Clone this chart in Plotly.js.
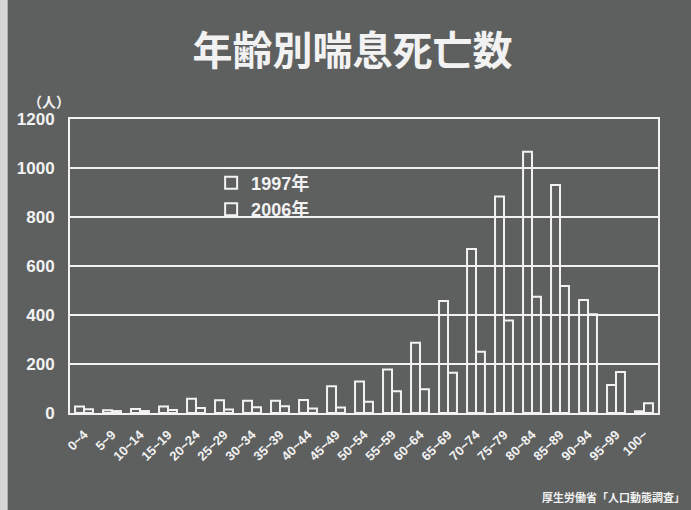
<!DOCTYPE html>
<html>
<head>
<meta charset="utf-8">
<script src="https://cdn.plot.ly/plotly-3.0.1.min.js"></script>
<style>html,body{margin:0;padding:0;background:#5e6060;}#chart{width:691px;height:510px;}</style>
</head>
<body>
<div id="chart"></div>
<script>
const categories = ["0~4","5~9","10~14","15~19","20~24","25~29","30~34","35~39","40~44","45~49","50~54","55~59","60~64","65~69","70~74","75~79","80~84","85~89","90~94","95~99","100~"];
const values1997 = [27, 11, 16, 27, 58, 52, 50, 50, 53, 109, 129, 178, 287, 457, 669, 884, 1066, 931, 461, 114, 7];
const values2006 = [15, 8, 8, 12, 20, 14, 23, 28, 18, 22, 46, 89, 97, 164, 250, 378, 475, 518, 403, 167, 40];
const seriesNames = ["1997年", "2006年"];
const yTicks = [0, 200, 400, 600, 800, 1000, 1200];

const FONT = "Liberation Sans, Arial, 'Noto Sans CJK JP', sans-serif";
const JFONT = "'Noto Sans CJK JP', Liberation Sans, sans-serif";
const WHITE = "#f2f2f2";
const BG = "#5e6060";

const barStyle = {color: "rgba(0,0,0,0)", line: {color: WHITE, width: 2}};
const data = [
  {type: "bar", name: seriesNames[0], x: categories, y: values1997, marker: barStyle, hoverinfo: "x+y"},
  {type: "bar", name: seriesNames[1], x: categories, y: values2006, marker: barStyle, hoverinfo: "x+y"}
];

const layout = {
  width: 691, height: 510,
  paper_bgcolor: BG, plot_bgcolor: BG,
  margin: {l: 70, r: 33, t: 119, b: 97},
  barmode: "group", bargap: 0.36, bargroupgap: 0,
  title: {text: "<b>年齢別喘息死亡数</b>", x: 0.51, xanchor: "center", y: 0.9, yanchor: "middle",
          font: {family: JFONT, size: 40, color: WHITE}},
  xaxis: {
    type: "category", tickangle: -45, showgrid: false, zeroline: false,
    showline: true, linecolor: WHITE, linewidth: 2, mirror: true,
    ticks: "outside", ticklen: 7, tickcolor: "rgba(0,0,0,0)",
    tickfont: {family: FONT, size: 13, color: WHITE, weight: "bold"},
    automargin: false
  },
  yaxis: {
    range: [0, 1200], tickvals: yTicks, ticktext: yTicks.map(String),
    showgrid: true, gridcolor: WHITE, gridwidth: 2, zeroline: false,
    showline: true, linecolor: WHITE, linewidth: 2, mirror: true,
    ticks: "", ticklabelstandoff: 10,
    tickfont: {family: FONT, size: 17, color: WHITE, weight: "bold"},
    automargin: false
  },
  legend: {
    x: 0.24, y: 0.845, xanchor: "left", yanchor: "top",
    bgcolor: "rgba(0,0,0,0)", borderwidth: 0,
    font: {family: FONT, size: 18, color: WHITE, weight: "bold"},
    itemwidth: 30, tracegroupgap: 0
  },
  showlegend: true,
  annotations: [
    {text: "<b>（人）</b>", xref: "paper", yref: "paper", x: 0.004, y: 1.02, xanchor: "right", yanchor: "bottom",
     showarrow: false, font: {family: JFONT, size: 14, color: WHITE}},
    {text: "厚生労働省「人口動態調査」", xref: "paper", yref: "paper", x: 1.05, y: -0.285, xanchor: "right", yanchor: "middle",
     showarrow: false, font: {family: JFONT, size: 11, color: WHITE, weight: "bold"}}
  ],
  shapes: [
    {type: "rect", xref: "paper", yref: "paper", x0: -0.119, x1: -0.106, y0: -0.33, y1: 1.41,
     fillcolor: "#d6d6d6", line: {width: 0}, layer: "below"}
  ]
};

Plotly.newPlot("chart", data, layout, {displayModeBar: false, staticPlot: true});
</script>
</body>
</html>
